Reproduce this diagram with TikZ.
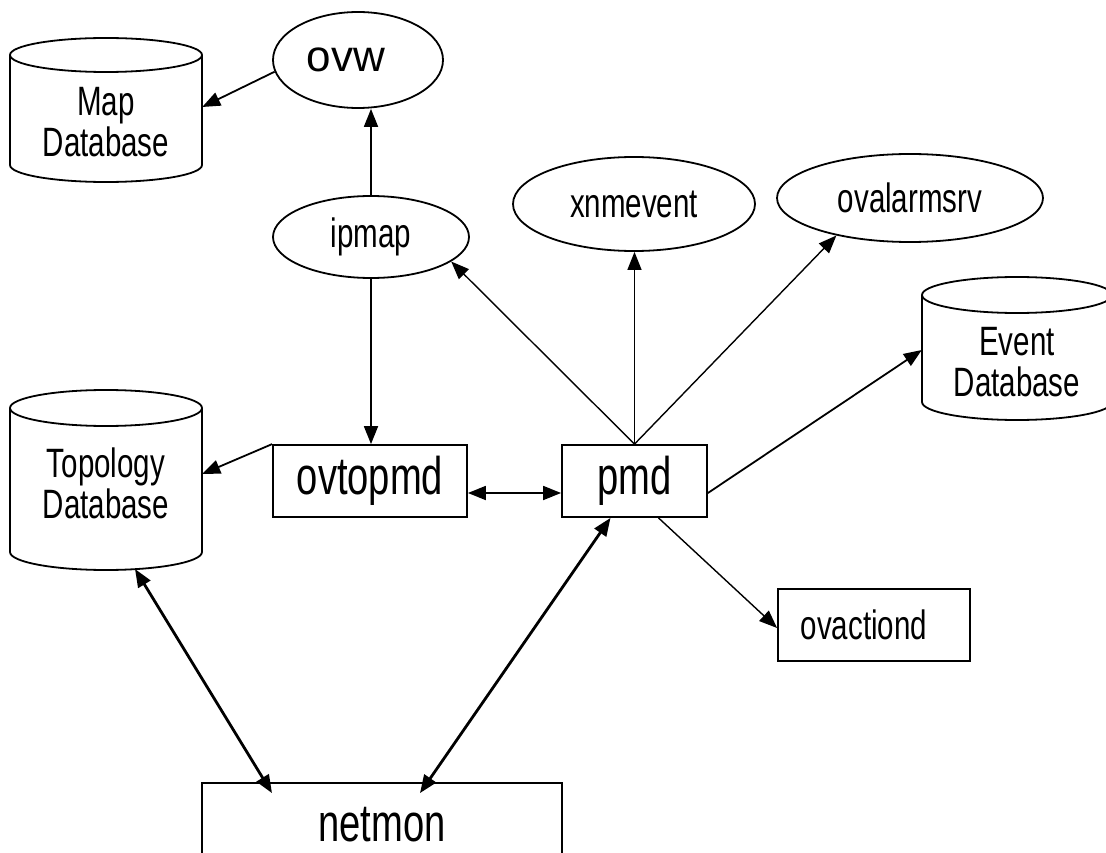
\documentclass[tikz,border=0pt]{standalone}
\usepackage{fontspec}
\setmainfont{Liberation Sans}[FakeStretch=0.72]
\newfontfamily\widefont{Liberation Sans}
\usetikzlibrary{arrows.meta,shapes.geometric}
\newcommand{\dbcyl}[5]{%
  \draw[shapeline] (#1-#4,#2) -- (#1-#4,#3) arc[start angle=180,end angle=360,x radius=#4pt,y radius=#5pt] -- (#1+#4,#2);
  \draw[shapeline] (#1,#2) ellipse [x radius=#4pt,y radius=#5pt];
}
\begin{document}
\begin{tikzpicture}[x=1pt,y=-1pt,
  shapeline/.style={line width=1.8pt},
  proc/.style={draw,line width=1.8pt,ellipse,inner sep=0pt},
  box/.style={draw,line width=1.8pt,rectangle,inner sep=0pt},
  dbtext/.style={align=center,font=\fontsize{41}{41}\selectfont,inner sep=0pt},
  mid/.style={font=\fontsize{41}{41}\selectfont},
  big/.style={font=\fontsize{53}{56}\selectfont},
  tip/.style={-{Triangle[length=18pt,width=14pt]}},
  tips/.style={{Triangle[length=18pt,width=14pt]}-{Triangle[length=18pt,width=14pt]}},
  connthin/.style={line width=1.4pt},
  conn/.style={line width=1.8pt},
  connbold/.style={line width=2.8pt}]
\useasboundingbox (0,0) rectangle (1106,853);

% database cylinders
\dbcyl{106}{55}{165}{96}{17}
\dbcyl{106}{408}{552}{96}{18}
\dbcyl{1017}{295}{402}{95}{18}
\node[dbtext,minimum width=192pt] (mapdb) at (106,122) {Map\\Database};
\node[dbtext,minimum width=192pt] (topodb) at (106,483) {Topology\\Database};
\node[dbtext,minimum width=190pt] (eventdb) at (1017,362) {Event\\Database};

% processes
\node[proc,minimum width=170pt,minimum height=96pt,font=\widefont\fontsize{44}{48}\selectfont] (ovw) at (358,60) {\hspace*{-24pt}ovw};
\node[proc,mid,minimum width=196pt,minimum height=82pt] (ipmap) at (371,237) {ipmap};
\node[proc,mid,minimum width=242pt,minimum height=94pt] (xnmevent) at (634,204) {xnmevent};
\node[proc,mid,minimum width=266pt,minimum height=88pt] (ovalarmsrv) at (910,198) {ovalarmsrv};

% boxes
\node[box,big,minimum width=194pt,minimum height=72pt] (ovtopmd) at (370,481) {ovtopmd};
\node[box,big,minimum width=145pt,minimum height=72pt] (pmd) at (634.5,481) {pmd};
\node[box,mid,minimum width=192pt,minimum height=72pt] (ovactiond) at (874,625) {\hspace*{-20pt}ovactiond};
\node[box,big,minimum width=360pt,minimum height=84pt] (netmon) at (382,825) {netmon};

% connectors
\draw[conn,tip] (ovw.188) -- ([yshift=15pt]mapdb.east);
\draw[conn,tip] (ipmap.north) -- (ipmap.north |- ovw.south);
\draw[conn,tip] (ipmap.south) -- (ipmap.south |- ovtopmd.north);
\draw[conn,tip] (ovtopmd.north west) -- ([yshift=9pt]topodb.east);
\draw[conn,tips] ([yshift=-12pt]ovtopmd.east) -- ([yshift=-12pt]pmd.west);
\draw[connthin,tip] (pmd.north) -- (ipmap.-17);
\draw[connthin,tip] (pmd.north) -- (pmd.north |- xnmevent.south);
\draw[connthin,tip] (pmd.north) -- (ovalarmsrv.207);
\draw[conn,tip] ([yshift=-12pt]pmd.east) -- ([yshift=12pt]eventdb.west);
\draw[connthin,tip] ([xshift=24pt]pmd.south) -- ([yshift=-3pt]ovactiond.west);
\draw[connbold,tips] ([xshift=-24pt]pmd.south) -- ([xshift=38pt,yshift=-11pt]netmon.north);
\draw[connbold,tips] ([xshift=29pt,yshift=-86pt]topodb.center) -- ([xshift=-110pt,yshift=-11pt]netmon.north);
\end{tikzpicture}
\end{document}
